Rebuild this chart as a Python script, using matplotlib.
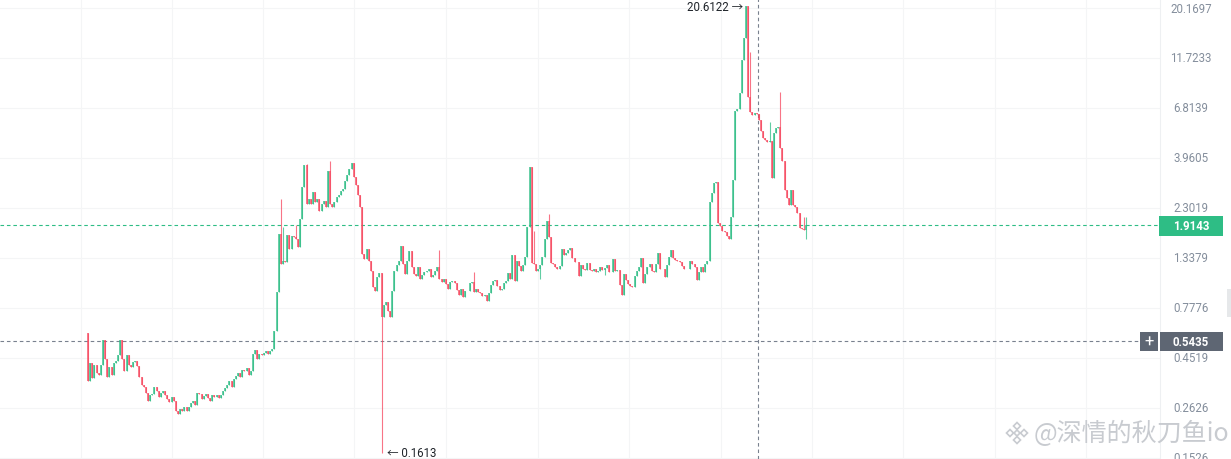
import matplotlib
matplotlib.use("Agg")
import matplotlib.pyplot as plt
import matplotlib.transforms as mtransforms
from matplotlib.patches import Rectangle, Polygon

plt.rcParams['font.family'] = ['Roboto', 'Noto Sans CJK SC', 'DejaVu Sans']

# candle closes (log price axis), oldest first
first_open = 0.593
closes = [
    0.352, 0.428, 0.364, 0.419, 0.384, 0.376, 0.419, 0.550, 0.447, 0.368,
    0.410, 0.376, 0.428, 0.438, 0.467, 0.550, 0.447, 0.392, 0.467, 0.419,
    0.410, 0.433, 0.438, 0.414, 0.368, 0.337, 0.329, 0.309, 0.284, 0.302,
    0.306, 0.329, 0.316, 0.296, 0.309, 0.316, 0.302, 0.290, 0.281, 0.296,
    0.284, 0.255, 0.246, 0.260, 0.255,
    0.265, 0.255, 0.265, 0.277, 0.284, 0.271, 0.309, 0.306, 0.290, 0.299,
    0.306, 0.293, 0.284, 0.302, 0.296, 0.302, 0.293, 0.302, 0.316, 0.326,
    0.337, 0.352, 0.329, 0.360, 0.372, 0.384, 0.368, 0.396, 0.392, 0.405,
    0.376, 0.392, 0.472, 0.493, 0.447, 0.472, 0.467, 0.477, 0.488, 0.472,
    0.488, 0.499, 0.606, 0.925, 1.733, 1.253, 1.295, 1.281, 1.714, 1.472,
    1.696, 1.678, 1.641, 1.504, 2.04, 2.89, 3.67, 2.40, 2.53, 2.40,
    2.74, 2.45, 2.53, 2.23, 2.40, 2.48, 2.33, 3.44, 2.40, 2.33,
    2.45, 2.59, 2.65, 2.77, 2.83, 3.09, 3.29, 3.51, 3.75, 3.22,
    2.96, 2.65, 2.33, 1.394, 1.324, 1.472, 1.295, 1.162, 0.977, 0.935,
    1.089, 1.137, 0.706, 0.803, 0.829, 0.753, 0.706, 0.935, 1.162, 1.240,
    1.295, 1.521, 1.253, 1.125, 1.295, 1.440, 1.213, 1.125, 1.101, 1.213,
    1.065, 1.113, 1.149, 1.162, 1.187, 1.089, 1.113, 1.162, 1.213, 1.065,
    1.031, 1.065, 1.009, 0.956, 1.031, 1.043, 1.020, 0.945, 0.895, 0.956,
    0.876, 0.935, 0.935, 1.020, 1.031, 0.925, 0.956, 0.925, 0.915, 0.886,
    0.895, 0.838, 0.915, 0.998, 1.043, 1.054, 0.987, 0.945, 0.956,
    1.020, 1.043, 1.137, 1.065, 1.379, 1.043, 1.295, 1.226, 1.162, 1.240,
    1.349, 1.870, 3.59, 1.267, 1.253, 1.162, 1.187, 1.240, 1.349, 1.641,
    1.994, 1.678, 1.267, 1.253, 1.213, 1.187, 1.226, 1.472, 1.379, 1.409,
    1.456, 1.488, 1.338, 1.281, 1.281, 1.101, 1.240, 1.187, 1.174, 1.267,
    1.174, 1.162, 1.187, 1.149, 1.162, 1.213, 1.174, 1.200, 1.240, 1.149,
    1.149, 1.324, 1.162, 1.174, 0.998, 0.895, 1.125,
    1.054, 1.009, 0.987, 0.977, 1.101, 1.162, 1.213, 1.338, 1.020, 1.125,
    1.213, 1.253, 1.162, 1.149, 1.253, 1.409, 1.187, 1.187, 1.089, 1.240,
    1.349, 1.456, 1.338, 1.310, 1.295, 1.281, 1.226, 1.187, 1.187, 1.187,
    1.295, 1.253, 1.213, 1.054, 1.149, 1.213, 1.149, 1.253, 1.295, 2.45,
    2.71, 3.02, 3.05, 1.953, 1.891,
    1.791, 1.771, 1.696, 1.641, 2.09, 3.12, 6.59, 6.74, 8.01, 11.47,
    14.56, 20.61, 7.67, 6.52, 6.31, 6.45, 6.38, 5.98, 5.30, 4.92,
    4.81, 4.71, 4.76, 3.19, 5.19, 5.48, 5.54, 4.41, 3.83, 2.80,
    2.56, 2.38, 2.80, 2.38, 2.33, 2.18, 1.850, 1.830, 1.810, 1.914,
]
# wicks that stick out past the body (candle index -> price)
wick_high = {90: 2.53, 91: 1.870, 97: 1.911, 102: 3.71, 113: 3.83, 164: 1.456,
             180: 1.149, 208: 1.791, 215: 2.16, 259: 1.213, 309: 12.50,
             318: 5.85, 323: 8.10, 334: 2.09, 335: 2.09}
wick_low = {137: 0.1613, 211: 1.065, 241: 1.113, 335: 1.641}

tick_vals = [20.1697, 11.7233, 6.8139, 3.9605, 2.3019, 1.3379, 0.7776, 0.4519, 0.2626, 0.1526]
tick_labels = ["20.1697", "11.7233", "6.8139", "3.9605", "2.3019", "1.3379", "0.7776", "0.4519", "0.2626", "0.1526"]
last_price = 1.9143
cross_price = 0.5435
max_price = 20.6122
min_price = 0.1613

opens = [first_open] + closes[:-1]
highs = [max(o, c, wick_high.get(i, 0)) for i, (o, c) in enumerate(zip(opens, closes))]
lows = [min(o, c, wick_low.get(i, 99)) for i, (o, c) in enumerate(zip(opens, closes))]

UP = '#2ebd85'
DOWN = '#f6465d'
GREY = '#848e9c'

W, H = 1231, 460
fig = plt.figure(figsize=(W / 100, H / 100), dpi=100)
ax = fig.add_axes([0, 0, 1160 / W, 1])
ax.set_yscale('log')
n = len(closes)
step = 718 / (n - 1)          # pixel spacing between candles
ax.set_xlim(-88 / step, (1160 - 88) / step)
ax.set_ylim(0.15081, 22.24)
for s in ax.spines.values():
    s.set_visible(False)
ax.set_xticks([])
ax.set_yticks([])
ax.minorticks_off()

# faint grid
for v in tick_vals:
    ax.axhline(v, color='#f4f5f6', lw=0.8, zorder=0)
for px in [81, 172, 263, 354, 446, 538, 629, 721, 812, 903, 995, 1086]:
    ax.axvline((px - 88) / step, color='#f4f5f6', lw=0.8, zorder=0)

# candles
xs = list(range(n))
cols = [UP if c >= o else DOWN for o, c in zip(opens, closes)]
ax.vlines(xs, lows, highs, colors=cols, lw=0.8, alpha=0.75, zorder=3)
ax.vlines(xs, [min(o, c) for o, c in zip(opens, closes)],
          [max(o, c) for o, c in zip(opens, closes)], colors=cols, lw=1.35,
          alpha=0.75, zorder=3)

# price lines / crosshair
ax.axhline(last_price, color=UP, lw=0.8, dashes=(3.2, 2.6), zorder=2)
ax.axhline(cross_price, color='#79818f', lw=0.8, dashes=(3.2, 2.6), zorder=2)
ax.axvline((758 - 88) / step, color='#79818f', lw=0.8, dashes=(3.2, 2.6), zorder=2)

# max / min markers
imax = highs.index(max(highs))
imin = lows.index(min(lows))
ax.annotate(f"{max_price:.4f} →", (imax, max_price), xytext=(-2, 0), textcoords='offset points',
            ha='right', va='center', fontsize=8.3, color='#1e2329')
ax.annotate(f"← {min_price:.4f}", (imin, min_price), xytext=(4, 0), textcoords='offset points',
            ha='left', va='center', fontsize=8.3, color='#1e2329')

# right price scale
tr = mtransforms.blended_transform_factory(fig.transFigure, ax.transData)
for v, lab in zip(tick_vals, tick_labels):
    ax.text(1191 / W, v, lab, transform=tr, ha='center', va='center',
            fontsize=8.3, color=GREY, clip_on=False)
fig.add_artist(plt.Line2D([1160 / W, 1160 / W], [0, 1], color='#eef0f2', lw=0.8))


def box(x0, y0, x1, y1, color):
    fig.add_artist(Rectangle((x0 / W, 1 - y1 / H), (x1 - x0) / W, (y1 - y0) / H,
                             transform=fig.transFigure, color=color, lw=0, zorder=5))


box(1159, 217, 1223, 237, UP)
fig.text(1191 / W, 1 - 227 / H, f"{last_price:.4f}", ha='center', va='center',
         fontsize=8.3, color='white', fontweight='bold', zorder=6)
box(1160, 333, 1223, 352, '#5e6673')
box(1140, 333, 1158, 352, '#5e6673')
fig.text(1191 / W, 1 - 342.5 / H, f"{cross_price:.4f}", ha='center', va='center',
         fontsize=8.3, color='white', fontweight='bold', zorder=6)
fig.text(1149 / W, 1 - 342.5 / H, "+", ha='center', va='center',
         fontsize=12, color='white', zorder=6)
box(1227, 290, 1231, 318, '#e6e8ea')

# watermark
wm = '#c8cbd0'
cx, cy = 1017, 434
for dx, dy, r in [(0, -7, 3.5), (-7, 0, 3.5), (7, 0, 3.5), (0, 7, 3.5), (0, 0, 3)]:
    pts = [((cx + dx) / W, 1 - (cy + dy - r) / H), ((cx + dx + r) / W, 1 - (cy + dy) / H),
           ((cx + dx) / W, 1 - (cy + dy + r) / H), ((cx + dx - r) / W, 1 - (cy + dy) / H)]
    fig.add_artist(Polygon(pts, closed=True, fill=False, edgecolor=wm, lw=1.2,
                           transform=fig.transFigure))
fig.text(1034 / W, 1 - 434 / H, "@深情的秋刀鱼io", ha='left', va='center',
         fontsize=18, color=wm, family=['Noto Sans CJK SC', 'DejaVu Sans'])

fig.savefig("out.png", dpi=100)
